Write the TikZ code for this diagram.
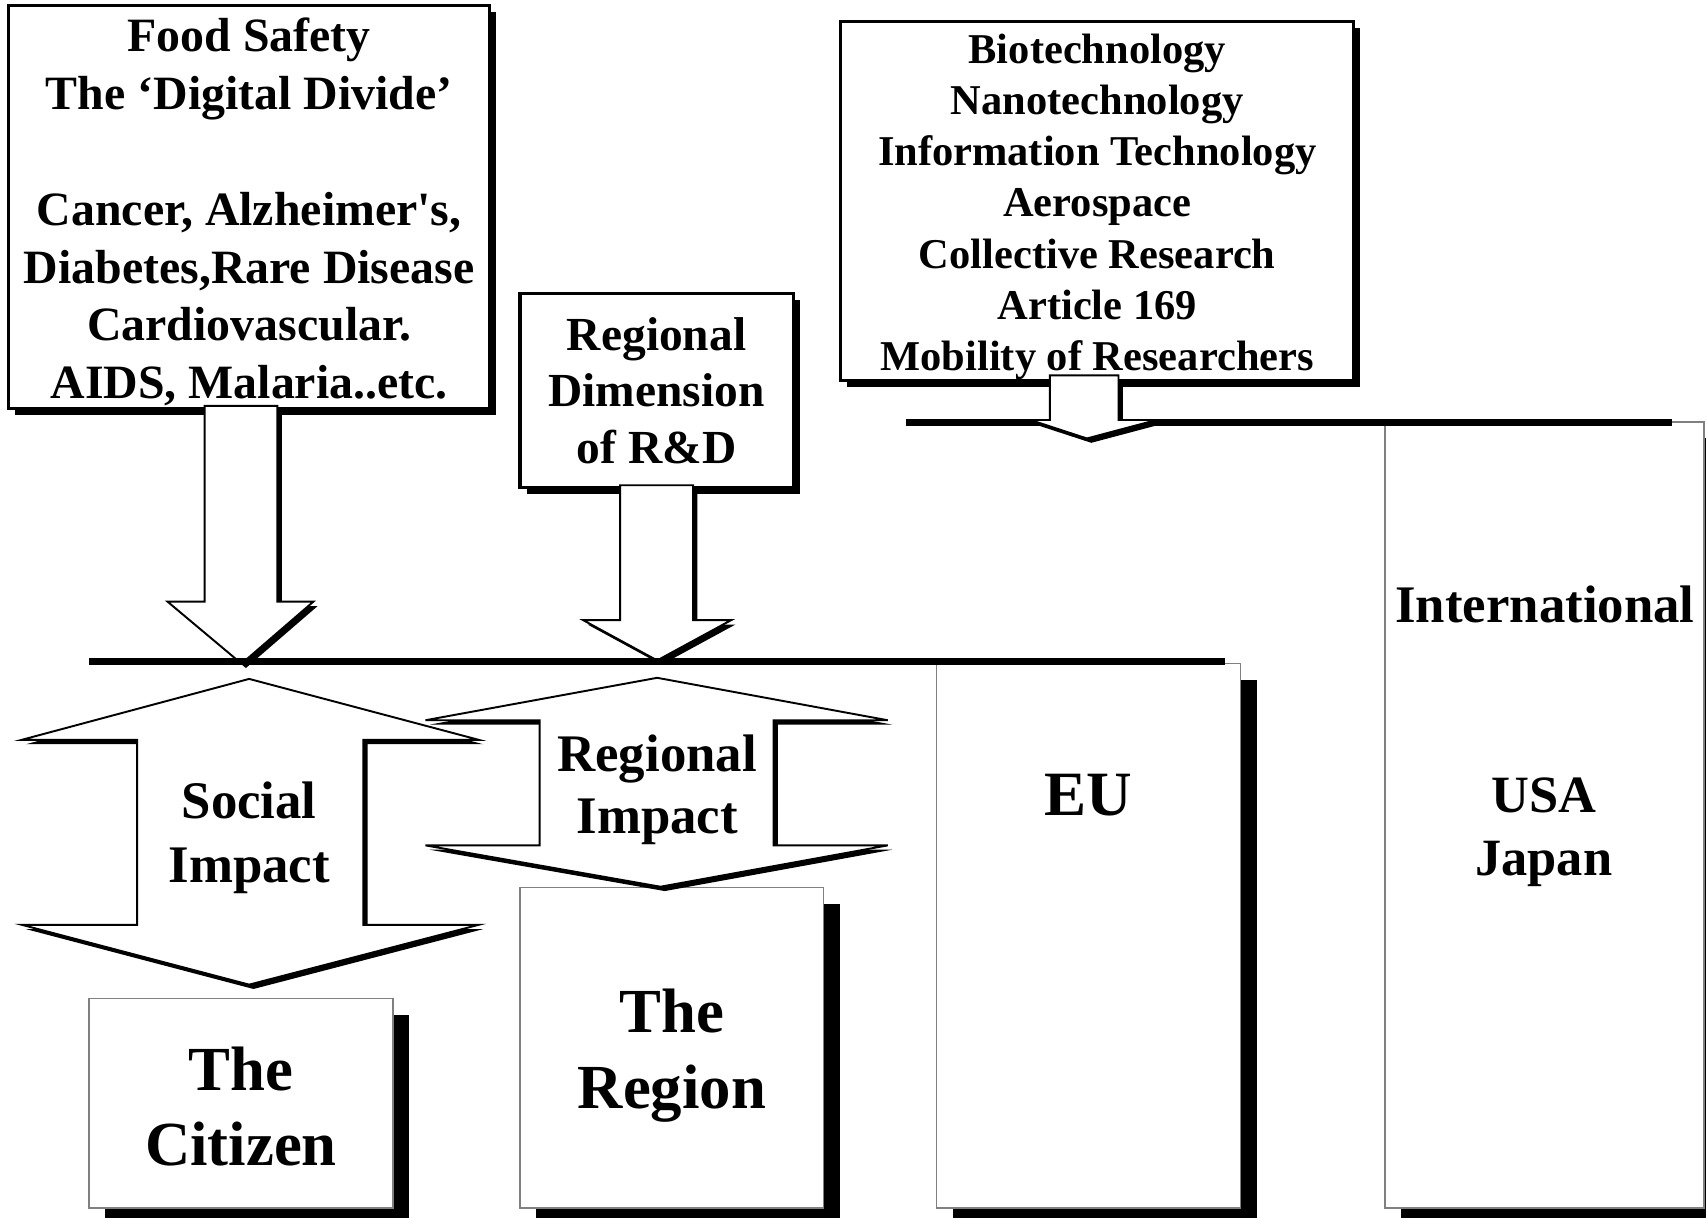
\documentclass[tikz,border=0pt]{standalone}
\usepackage{fontspec}
\setmainfont{Liberation Serif}
\usetikzlibrary{shadows}
\begin{document}
\begin{tikzpicture}[x=0.01cm, y=-0.01cm,
  topbox/.style={draw, line width=0.8pt, fill=white, align=center, inner sep=0pt,
    drop shadow={shadow xshift=0.06cm, shadow yshift=-0.06cm, fill=black, opacity=1}},
  lowbox/.style={draw=black!50, line width=0.4pt, fill=white, align=center, inner sep=0pt,
    minimum width=2.79cm,
    drop shadow={shadow xshift=0.15cm, shadow yshift=-0.15cm, fill=black, opacity=1}},
  blockarrow/.style={draw, line width=0.5pt, fill=white, line join=miter,
    drop shadow={shadow xshift=0.04cm, shadow yshift=-0.04cm, fill=black, opacity=1}},
  bar/.style={line width=1.8pt},
  txt/.style={align=center, inner sep=0pt}]
\useasboundingbox (0,0) rectangle (1568,1119);

\node[topbox, minimum width=4.42cm, minimum height=3.70cm] (food) at (229,190) {};
\node[txt, font=\bfseries\fontsize{12.5}{15.1}\selectfont] (foodtext) at (229,195)
  {Food Safety\\The ‘Digital Divide’\\[15.1pt]Cancer, Alzheimer\textquotesingle s,\\Diabetes,Rare Disease\\Cardiovascular.\\AIDS, Malaria..etc.};
\node[topbox, minimum width=2.51cm, minimum height=1.78cm,
  font=\bfseries\fontsize{12.4}{14.8}\selectfont] (regdim) at (603.5,359)
  {Regional\\Dimension\\of R\&D};
\node[topbox, minimum width=4.71cm, minimum height=3.30cm] (tech) at (1008.5,185) {};
\node[txt, font=\bfseries\fontsize{11.1}{13.4}\selectfont] (techtext) at (1008.5,190)
  {Biotechnology\\Nanotechnology\\Information Technology\\Aerospace\\Collective Research\\Article 169\\Mobility of Researchers};

\coordinate (lineAw) at (82,608);
\coordinate (lineAe) at (1126,608);
\coordinate (lineBw) at (833,388);
\coordinate (lineBe) at (1537,388);

\node[lowbox, minimum width=2.93cm, minimum height=7.22cm] (intl) at (1419.5,749) {};
\node[lowbox, minimum height=5.00cm] (eu) at (1000.5,860) {};
\node[lowbox, minimum height=1.92cm] (citizen) at (221.5,1014) {};
\node[lowbox, minimum height=2.94cm] (region) at (617.5,963) {};

\node[txt, font=\bfseries\fontsize{16.4}{19.6}\selectfont] (citizentext) at (221.5,1017) {The\\Citizen};
\node[txt, font=\bfseries\fontsize{16.4}{19.9}\selectfont] (regiontext) at (617.5,970) {The\\Region};
\node[txt, font=\bfseries\fontsize{16.5}{19.8}\selectfont] (eutext) at (1000,731) {EU};
\node[txt, font=\bfseries\fontsize{13.8}{16.5}\selectfont] (intltext) at (1420,556) {International};
\node[txt, font=\bfseries\fontsize{13.7}{16.5}\selectfont] (usajapan) at (1419,765) {USA\\Japan};

\draw[blockarrow] (188,373) -- (255,373) -- (255,553) -- (288,553) -- (222,610)
  -- (154,553) -- (188,553) -- cycle;
\draw[blockarrow] (570,446) -- (637,446) -- (637,570) -- (672,570) -- (604,607)
  -- (536,570) -- (570,570) -- cycle;

\draw[bar] (lineAw) -- (lineAe);
\draw[bar] (lineBw) -- (lineBe);

\draw[blockarrow] (965,345) -- (1028,345) -- (1028,386) -- (1063,386) -- (999,403)
  -- (947,386) -- (965,386) -- cycle;

\draw[blockarrow] (229,624) -- (440,680) -- (334,680) -- (334,850) -- (440,850)
  -- (229,905) -- (20,850) -- (126,850) -- (126,680) -- (20,680) -- cycle;
\draw[blockarrow] (604,623) -- (816,662) -- (711,662) -- (711,777) -- (816,777)
  -- (607,815) -- (391,777) -- (496,777) -- (496,662) -- (391,662) -- cycle;

\node[txt, font=\bfseries\fontsize{13.8}{16.8}\selectfont] (social) at (229,770) {Social\\Impact};
\node[txt, font=\bfseries\fontsize{13.8}{16.2}\selectfont] (regimpact) at (604,726) {Regional\\Impact};
\end{tikzpicture}
\end{document}
